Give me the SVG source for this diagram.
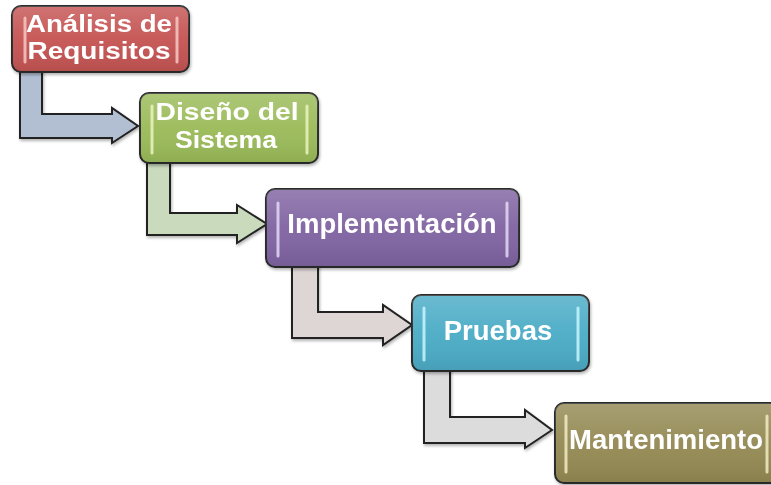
<svg xmlns="http://www.w3.org/2000/svg" width="771" height="485" viewBox="0 0 771 485">
<defs>
<linearGradient id="gloss" x1="0" y1="0" x2="0" y2="1">
<stop offset="0" stop-color="#fff" stop-opacity="0.18"/>
<stop offset="0.5" stop-color="#fff" stop-opacity="0.04"/>
<stop offset="1" stop-color="#000" stop-opacity="0.08"/>
</linearGradient>
<filter id="sh" x="-10%" y="-10%" width="130%" height="130%">
<feGaussianBlur in="SourceAlpha" stdDeviation="1.5"/>
<feOffset dx="1" dy="2"/>
<feComponentTransfer><feFuncA type="linear" slope="0.3"/></feComponentTransfer>
<feMerge><feMergeNode/><feMergeNode in="SourceGraphic"/></feMerge>
</filter>
</defs>
<style>
.box{stroke:#2b2b2b;stroke-width:2}
.ov{fill:url(#gloss);stroke:none}
.hl{stroke-width:3;stroke-linecap:round;fill:none;opacity:0.85}
.lbl{font-family:"Liberation Sans",Arial,sans-serif;font-weight:bold;font-size:27.5px;fill:#ffffff;text-anchor:middle}
.sm{font-size:24px}
.arr{stroke:#222;stroke-width:2;stroke-linejoin:miter}
</style>
<g id="connectors" filter="url(#sh)">
<path class="arr" fill="#B2BED2" d="M20,68 L42,68 L42,114 L112,114 L112,108 L138,126 L112,143 L112,138 L20,138 Z"/>
<path class="arr" fill="#C9DABD" d="M147,160 L170,160 L170,213 L237,213 L237,205 L267,224 L237,243 L237,235 L147,235 Z"/>
<path class="arr" fill="#DED5D5" d="M292,264 L318,264 L318,312 L383,312 L383,305 L412,325 L383,345 L383,338 L292,338 Z"/>
<path class="arr" fill="#DCDCDC" d="M424,368 L450,368 L450,417 L525,417 L525,410 L552,430 L525,448 L525,443 L424,443 Z"/>
</g>
<g id="n1" filter="url(#sh)">
<rect class="box" x="12" y="6" width="177" height="66" rx="9" fill="#C55453"/>
<rect class="ov" x="12" y="6" width="177" height="66" rx="9"/>
<line class="hl" x1="25" y1="18" x2="25" y2="62" stroke="#F6C8C6"/>
<line class="hl" x1="177" y1="18" x2="177" y2="62" stroke="#F6C8C6"/>
<text class="lbl sm" x="99" y="32" textLength="146" lengthAdjust="spacingAndGlyphs">Análisis de</text>
<text class="lbl sm" x="99" y="59" textLength="143" lengthAdjust="spacingAndGlyphs">Requisitos</text>
</g>
<g id="n2" filter="url(#sh)">
<rect class="box" x="140" y="93" width="178" height="70" rx="9" fill="#9BBB59"/>
<rect class="ov" x="140" y="93" width="178" height="70" rx="9"/>
<line class="hl" x1="152" y1="106" x2="152" y2="153" stroke="#EAF5BE"/>
<line class="hl" x1="307" y1="106" x2="307" y2="153" stroke="#EAF5BE"/>
<text class="lbl sm" x="227" y="120" textLength="143" lengthAdjust="spacingAndGlyphs">Diseño del</text>
<text class="lbl sm" x="226" y="148" textLength="102" lengthAdjust="spacingAndGlyphs">Sistema</text>
</g>
<g id="n3" filter="url(#sh)">
<rect class="box" x="266" y="189" width="253" height="78" rx="9" fill="#8064A2"/>
<rect class="ov" x="266" y="189" width="253" height="78" rx="9"/>
<line class="hl" x1="278" y1="203" x2="278" y2="256" stroke="#E4D8F4"/>
<line class="hl" x1="507" y1="203" x2="507" y2="256" stroke="#E4D8F4"/>
<text class="lbl" x="392" y="233">Implementación</text>
</g>
<g id="n4" filter="url(#sh)">
<rect class="box" x="412" y="295" width="177" height="76" rx="9" fill="#4BACC6"/>
<rect class="ov" x="412" y="295" width="177" height="76" rx="9"/>
<line class="hl" x1="424" y1="308" x2="424" y2="360" stroke="#C6F6FF"/>
<line class="hl" x1="578" y1="308" x2="578" y2="360" stroke="#C6F6FF"/>
<text class="lbl" x="498" y="340">Pruebas</text>
</g>
<g id="n5" filter="url(#sh)">
<rect class="box" x="555" y="403" width="225" height="80" rx="9" fill="#948A54"/>
<rect class="ov" x="555" y="403" width="225" height="80" rx="9"/>
<line class="hl" x1="566" y1="416" x2="566" y2="472" stroke="#F2EBC2"/>
<line class="hl" x1="767" y1="416" x2="767" y2="472" stroke="#F2EBC2"/>
<text class="lbl" x="666" y="449">Mantenimiento</text>
</g>
</svg>
